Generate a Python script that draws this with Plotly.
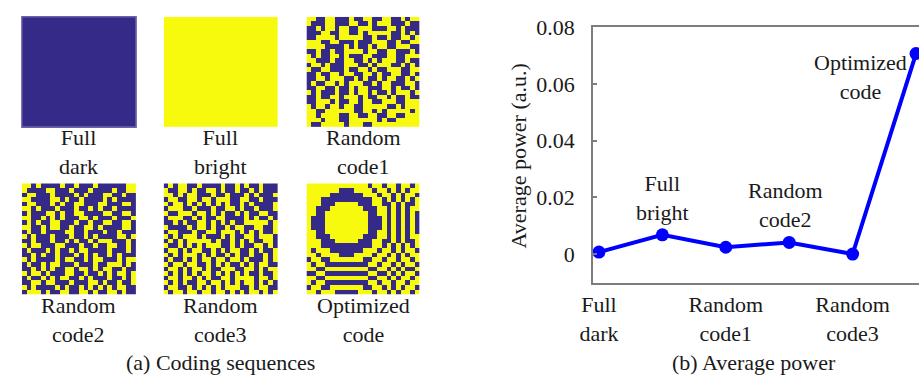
import plotly.graph_objects as go

W, H = 919, 376

# ---------------------------------------------------------------- data
categories = ["Full dark", "Full bright", "Random code1",
              "Random code2", "Random code3", "Optimized code"]
avg_power = [0.0007, 0.0068, 0.0024, 0.0041, 0.0000, 0.0708]

y_tick_vals = [0, 0.02, 0.04, 0.06, 0.08]
y_tick_text = ["0", "0.02", "0.04", "0.06", "0.08"]
x_tick_idx = [0, 2, 4]
x_tick_text = ["Full<br>dark", "Random<br>code1", "Random<br>code3"]

panel_labels = ["Full<br>dark", "Full<br>bright", "Random<br>code1",
                "Random<br>code2", "Random<br>code3", "Optimized<br>code"]

# 24 x 24 coding masks: '#' = dark pixel (0), '.' = bright pixel (1)
full_dark = ["#" * 24] * 24
full_bright = ["." * 24] * 24

random_code1 = [
    "..##..###.##..##..##.#..",
    ".###..###..##.#...###.##",
    "##.#..#..##...###..#.###",
    "###..##..##.#.....##.#.#",
    "##....#.....##.##.##..#.",
    "...##..###.###...##.##..",
    "....####.#.##.#..##...##",
    "##.##.##....#..##..###.#",
    ".#.##..#.###..###..##...",
    "..###.##..##.#.#...##.##",
    "#..#.###...##.#...##.#.#",
    ".##..###.##..#.##...##..",
    "##.##..#..##..#.##..##.#",
    "##..#...##.#.##.#..##.#.",
    "#.##..#.#...##.#..###..#",
    "##..##.##.#..###..#.##.#",
    ".#.###.##.#..#.##.#...#.",
    "##.##..#...#.##..#.##.##",
    "##...#.##..#..##...##...",
    ".#..#..#..##.....##.#...",
    "..##......##..#.#.....#.",
    "..#....##..##..##..##...",
    "...#...##......#.##.....",
    ".##.....#...##..........",
]

random_code2 = [
    "..#.####.##.###.######..",
    ".####..###.###.####.##..",
    "#..###.####.#.###..##.##",
    "..####..#.##.####.#.####",
    "#..###.#.##..###..###..#",
    "..#.###.###.##.#.##.####",
    "#.###..#.##..####..##..#",
    "..##.#.#.###..#.###.###.",
    "#.#.##..###.##.##..##..#",
    "..##.#..##.##..#.####..#",
    "#.##.####..##.###.##.###",
    ".#.###.###.##.#.####..#.",
    "##.###.##.#.##.#...###.#",
    ".#..###..###.##.##..##.#",
    "#.###.#.##.#..####.###.#",
    "##.#.##.###.#.#.##.#.###",
    ".#.####.#..##.#..###.#..",
    "#.##.#..###.###.##...#.#",
    "##.#.#.##..#..#.#..##.##",
    ".#..#.###..##.##.#.#..#.",
    "#.##.#.#..##.#.###.##.#.",
    "##..#..###.###..#.##.##.",
    ".#.####.#.##.#.#.#.#..##",
    "#...#.##..##..#.##..#.##",
]

random_code3 = [
    "#.#..##.####.##.#.##.###",
    ".##..#.##..#.##.##.#.###",
    "..#.#..###.##.###.#.###.",
    "#..##..#..#...##..##.###",
    ".#..#.#.#.#.#.##.#.####.",
    "#...##.###.##..#.##.###.",
    ".##...#..#.#.##.#.##..##",
    "#...##.#.##..####.#.##.#",
    "##.#.##..#.#.#.##.....#.",
    ".####.#..#.##.#..##..##.",
    "#..###.##..#...#.#.#.##.",
    ".#.#...#.###.#.##..#...#",
    "#.#.#.....#.##.#.#.##..#",
    ".##.#.#.#...##.#.##..#.#",
    "#..#.#..##.#.#..##.#.##.",
    ".#.#...#.#.##.#.##.##.#.",
    "#.##.#.#..#..#..#.###.#.",
    ".#..#..##.#.#.##.#.#..##",
    "#..#.#..#.##...##..#.#..",
    ".#.#.#.#..#.#.#.#.##.##.",
    "#..#..#.#.##..#....#..#.",
    ".#.#.##..#..#.#.#..#.#.#",
    "#..##.#.#.#.#...##.#..##",
    ".#..#..#..#..#.#.#..#.#.",
]

optimized_code = [
    ".............#..#..#..#.",
    ".......###....#..#.#.#..",
    ".....#######...#..#.#..#",
    "...###########..#.#.#.#.",
    "...###.....###..##.#.##.",
    "..###.......###..#.#.#..",
    "..##.........##..#.#.#.#",
    ".###.........###.#.#.#.#",
    ".###.........###.#.#.#.#",
    ".###.........###.#.#.#.#",
    "..##.........##..#.#.#.#",
    "..###.......###..#.#.#..",
    "...###.....###..##.#.##.",
    "...###########..#.#.#.#.",
    ".#...#######...#..#.#..#",
    "..#....###....#..#.#.#..",
    "#..##.......##..#..#..#.",
    ".#..#########..#..#.#..#",
    "..##.........##..#.#.##.",
    "##..#########..##.#.#..#",
    "..##.........##..#.#..#.",
    ".#..#########..#..#..#..",
    "#..##.......##..#.#.#..#",
    "..#...#####...#..#.#..#.",
]

masks = [full_dark, full_bright, random_code1,
         random_code2, random_code3, optimized_code]

# ---------------------------------------------------------------- styling
DARK = "#352a87"
BRIGHT = "#f8fa0e"
TEXT = "#1a1a1a"
AXIS = "#7d7d7d"
FONT = "Liberation Serif"
FS = 22

# pixel boxes of the six mask tiles (left, right, top, bottom)
tile_cols = [(8, 124), (152, 268), (297, 412)]
tile_rows = [(5, 119), (177, 292)]
# top of the caption under each tile row
label_tops = [115, 288]


def px_x(v):
    return v / W


def px_y(v):
    return 1 - v / H


fig = go.Figure()
layout_axes = {}
annotations = []
shapes = []

for i, mask in enumerate(masks):
    r, c = divmod(i, 3)
    x0, x1 = tile_cols[c]
    y0, y1 = tile_rows[r]
    n = i + 1
    z = [[0 if ch == "#" else 1 for ch in row] for row in mask]
    fig.add_trace(go.Heatmap(
        z=z, zmin=0, zmax=1,
        colorscale=[[0, DARK], [1, BRIGHT]],
        showscale=False, hoverinfo="skip",
        xaxis=f"x{n}", yaxis=f"y{n}",
    ))
    layout_axes[f"xaxis{n}"] = dict(
        domain=[px_x(x0), px_x(x1)], anchor=f"y{n}",
        range=[-0.5, 23.5], visible=False, fixedrange=True)
    layout_axes[f"yaxis{n}"] = dict(
        domain=[px_y(y1), px_y(y0)], anchor=f"x{n}",
        range=[23.5, -0.5], visible=False, fixedrange=True)
    annotations.append(dict(
        text=panel_labels[i], xref="paper", yref="paper",
        x=px_x((x0 + x1) / 2), y=px_y(label_tops[r]),
        xanchor="center", yanchor="top", showarrow=False,
        align="center", font=dict(family=FONT, size=FS, color=TEXT)))

# soft edge around the all-dark tile
shapes.append(dict(
    type="rect", xref="x domain", yref="y domain",
    x0=0, x1=1, y0=0, y1=1,
    line=dict(color="#6b62aa", width=1.5), fillcolor="rgba(0,0,0,0)"))

# ---------------------------------------------------------------- power curve
fig.add_trace(go.Scatter(
    x=list(range(len(categories))), y=avg_power,
    mode="lines+markers", xaxis="x7", yaxis="y7",
    line=dict(color="#0000ff", width=4),
    marker=dict(color="#0000ff", size=13),
    cliponaxis=False, hoverinfo="skip",
))

layout_axes["xaxis7"] = dict(
    domain=[px_x(588), 1.0], anchor="y7",
    range=[-0.093, 5.047],
    tickvals=x_tick_idx, ticktext=x_tick_text,
    showline=True, mirror=True, linecolor=AXIS, linewidth=2,
    ticks="", showgrid=False, zeroline=False,
    ticklabelstandoff=1,
    tickfont=dict(family=FONT, size=FS, color=TEXT))
layout_axes["yaxis7"] = dict(
    domain=[px_y(280), px_y(16)], anchor="x7",
    range=[-0.01025, 0.08],
    tickvals=y_tick_vals, ticktext=y_tick_text,
    showline=True, mirror=False, linecolor=AXIS, linewidth=2,
    ticks="inside", ticklen=4, tickwidth=1.5, tickcolor=AXIS,
    showgrid=False, zeroline=False,
    ticklabelstandoff=12,
    tickfont=dict(family=FONT, size=FS, color=TEXT))

# point labels on the curve
curve_notes = [
    dict(idx=1, text="Full<br>bright", xanchor="center", yanchor="bottom",
         xshift=0, yshift=8),
    dict(idx=3, text="Random<br>code2", xanchor="center", yanchor="bottom",
         xshift=-4, yshift=8),
    dict(idx=5, text="Optimized<br>code", xanchor="right", yanchor="top",
         xshift=-7, yshift=6),
]
for note in curve_notes:
    annotations.append(dict(
        text=note["text"], xref="x7", yref="y7",
        x=note["idx"], y=avg_power[note["idx"]],
        xanchor=note["xanchor"], yanchor=note["yanchor"],
        xshift=note["xshift"], yshift=note["yshift"],
        showarrow=False, align="center",
        font=dict(family=FONT, size=FS, color=TEXT)))

# axis title and sub-figure captions
annotations.append(dict(
    text="Average power (a.u.)", xref="paper", yref="paper",
    x=px_x(512), y=px_y(149), textangle=-90,
    xanchor="center", yanchor="middle", showarrow=False,
    font=dict(family=FONT, size=FS, color=TEXT)))
annotations.append(dict(
    text="(a) Coding sequences", xref="paper", yref="paper",
    x=px_x(210), y=px_y(362), xanchor="center", yanchor="middle",
    showarrow=False, font=dict(family=FONT, size=FS, color=TEXT)))
annotations.append(dict(
    text="(b) Average power", xref="paper", yref="paper",
    x=px_x(751), y=px_y(362), xanchor="center", yanchor="middle",
    showarrow=False, font=dict(family=FONT, size=FS, color=TEXT)))

fig.update_layout(
    width=W, height=H,
    margin=dict(l=0, r=0, t=0, b=0),
    paper_bgcolor="white", plot_bgcolor="white",
    showlegend=False,
    font=dict(family=FONT, size=FS, color=TEXT),
    annotations=annotations,
    shapes=shapes,
    **layout_axes,
)

fig.write_html("out.html", config={"displayModeBar": False})
